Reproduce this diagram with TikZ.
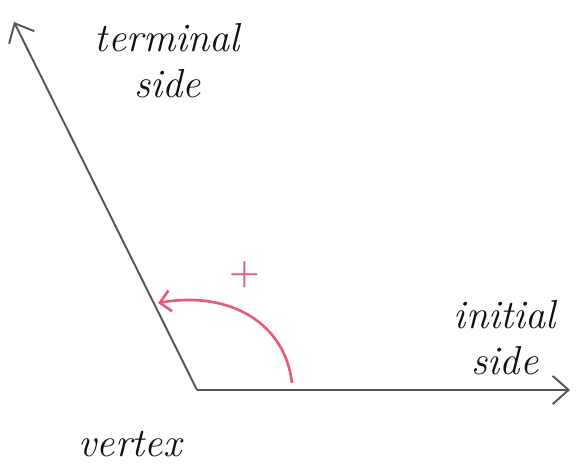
\documentclass[tikz,border=0pt]{standalone}
\usepackage{xcolor}
\usepackage{tikz}
\usetikzlibrary{arrows.meta}
\definecolor{ink}{HTML}{555555}
\definecolor{pen}{HTML}{111111}
\definecolor{pink}{HTML}{E85A7A}
\tikzset{
  ray/.style={ink,line width=1.1pt,-{Straight Barb[length=9pt,width=16pt]}},
  hand/.style={pen,font=\fontsize{23}{26}\selectfont\itshape,align=center,inner sep=0pt}
}
\begin{document}
\begin{tikzpicture}
\useasboundingbox (0,0) rectangle (11.66,9.36);
\coordinate (vertex) at (3.94,1.56);
\coordinate (init) at (11.4,1.56);
\coordinate (term) at (0.28,8.92);
\coordinate (arcstart) at (5.84,1.7);
\coordinate (arcend) at (3.16,3.3);
\draw[ray] (vertex)--(init);
\draw[ray] (vertex)--(term);
\draw[pink,line width=1.5pt,-{Straight Barb[length=6pt,width=12pt]}] (arcstart) .. controls (5.7,2.9) and (4.6,3.55) .. (arcend);
\node[pink,font=\fontsize{20}{20}\selectfont\bfseries] (plus) at (4.9,3.86) {+};
\node[hand] (termlbl) at (3.35,8.15) {terminal\\side};
\node[hand] (initlbl) at (10.1,2.6) {initial\\side};
\node[hand] (vtxlbl) at (2.6,0.48) {vertex};
\end{tikzpicture}
\end{document}
